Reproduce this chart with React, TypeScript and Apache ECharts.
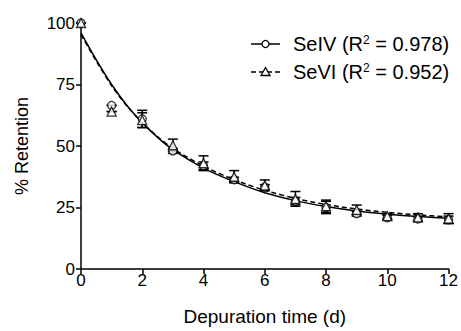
import React, { useEffect, useRef } from "react";
import * as echarts from "echarts";

const days = [0, 1, 2, 3, 4, 5, 6, 7, 8, 9, 10, 11, 12];
const seIV = [100, 66.5, 61, 48, 42, 36.3, 33.3, 27.6, 25, 22.5, 20.8, 20.3, 20];
const seIVErr = [0, 0, 3.5, 1, 1.5, 1, 1, 1.5, 2.5, 1, 1, 1, 1.5];
const seVI = [100, 64, 60.5, 50.3, 43, 37.5, 34, 28.5, 25.5, 24, 21.5, 21, 20.5];
const seVIErr = [0, 0, 3, 2.5, 3, 2.5, 2.2, 3, 2.5, 2, 1, 1.5, 2];
const fitX = [0, 0.5, 1, 1.5, 2, 2.5, 3, 4, 5, 6, 7, 8, 9, 10, 11, 12];
const fitIV = [96, 85, 75, 66.5, 59.5, 53.5, 48.5, 41, 35.5, 31, 27.8, 25.4, 23.6, 22.3, 21.3, 20.6];
const fitVI = [95.3, 84.5, 74.5, 66.3, 59.5, 53.8, 49, 41.8, 36.3, 32, 28.7, 26.2, 24.4, 23, 22, 21.2];
const yTicks = [0, 25, 50, 75, 100];
const xTicks = [0, 2, 4, 6, 8, 10, 12];

const FONT = "Arial, 'Liberation Sans', sans-serif";

function errSeries(vals: number[], errs: number[]) {
  return {
    type: "custom",
    silent: true,
    z: 3,
    data: days.map((d, i) => [d, vals[i] - errs[i], vals[i] + errs[i]]),
    renderItem: (params: any, api: any) => {
      const lo = api.coord([api.value(0), api.value(1)]);
      const hi = api.coord([api.value(0), api.value(2)]);
      const hw = 5;
      const st = { stroke: "#000", lineWidth: 1.5, fill: "none" };
      return {
        type: "group",
        children: [
          { type: "line", shape: { x1: lo[0], y1: lo[1], x2: hi[0], y2: hi[1] }, style: st },
          { type: "line", shape: { x1: lo[0] - hw, y1: lo[1], x2: lo[0] + hw, y2: lo[1] }, style: st },
          { type: "line", shape: { x1: hi[0] - hw, y1: hi[1], x2: hi[0] + hw, y2: hi[1] }, style: st },
        ],
      };
    },
  };
}

export default function App() {
  const ref = useRef<HTMLDivElement>(null);
  useEffect(() => {
    if (!ref.current) return;
    const chart = echarts.init(ref.current, null, { renderer: "svg" });
    const legendText = (label: string, r2: string) =>
      `{a|${label} (R}{s|2}{a| = ${r2})}`;
    const rich = {
      a: { fontSize: 20, fontFamily: FONT, fill: "#000" },
      s: { fontSize: 12, fontFamily: FONT, fill: "#000", verticalAlign: "top" },
    };
    chart.setOption({
      animation: false,
      backgroundColor: "#fff",
      grid: { left: 81, right: 11, top: 23, bottom: 62, containLabel: false },
      xAxis: {
        type: "value",
        min: 0,
        max: 12,
        interval: 2,
        name: "Depuration time (d)",
        nameLocation: "middle",
        nameGap: 38,
        nameTextStyle: { fontSize: 19, fontFamily: FONT, color: "#000" },
        axisLine: { lineStyle: { color: "#000", width: 1.5 } },
        axisTick: { length: 5, lineStyle: { color: "#000", width: 1.5 } },
        axisLabel: {
          fontSize: 17,
          fontFamily: FONT,
          color: "#000",
          margin: 3,
          formatter: (v: number) => (xTicks.includes(v) ? String(v) : ""),
        },
        splitLine: { show: false },
      },
      yAxis: {
        type: "value",
        min: 0,
        max: 100,
        interval: 25,
        name: "% Retention",
        nameLocation: "middle",
        nameGap: 50,
        nameTextStyle: { fontSize: 18, fontFamily: FONT, color: "#000" },
        axisLine: { lineStyle: { color: "#000", width: 1.5 } },
        axisTick: { length: 5, lineStyle: { color: "#000", width: 1.5 } },
        axisLabel: {
          fontSize: 17,
          fontFamily: FONT,
          color: "#000",
          margin: 6,
          formatter: (v: number) => (yTicks.includes(v) ? String(v) : ""),
        },
        splitLine: { show: false },
      },
      series: [
        {
          type: "line",
          data: fitX.map((d, i) => [d, fitIV[i]]),
          smooth: 0.3,
          showSymbol: false,
          lineStyle: { color: "#000", width: 1.5 },
          z: 2,
        },
        {
          type: "line",
          data: fitX.map((d, i) => [d, fitVI[i]]),
          smooth: 0.3,
          showSymbol: false,
          lineStyle: { color: "#000", width: 1.5, type: [5, 3] },
          z: 2,
        },
        errSeries(seIV, seIVErr),
        errSeries(seVI, seVIErr),
        {
          type: "scatter",
          data: days.map((d, i) => [d, seIV[i]]),
          symbol: "circle",
          symbolSize: 8,
          itemStyle: { color: "#fff", borderColor: "#000", borderWidth: 1.3 },
          z: 4,
        },
        {
          type: "scatter",
          data: days.map((d, i) => [d, seVI[i]]),
          symbol: "triangle",
          symbolSize: 9,
          itemStyle: { color: "#fff", borderColor: "#000", borderWidth: 1.3 },
          z: 5,
        },
      ],
      graphic: [
        { type: "line", shape: { x1: 251, y1: 44, x2: 280, y2: 44 }, style: { stroke: "#000", lineWidth: 1.5 } },
        { type: "circle", shape: { cx: 265.5, cy: 44, r: 3.5 }, style: { fill: "#fff", stroke: "#000", lineWidth: 1.3 } },
        {
          type: "text",
          x: 293,
          y: 44,
          style: { text: legendText("SeIV", "0.978"), rich, verticalAlign: "middle", fontFamily: FONT, fontSize: 20 },
        },
        { type: "line", shape: { x1: 251, y1: 72, x2: 280, y2: 72 }, style: { stroke: "#000", lineWidth: 1.5, lineDash: [5, 3] } },
        {
          type: "polygon",
          shape: { points: [[265.5, 67.5], [270, 75.5], [261, 75.5]] },
          style: { fill: "#fff", stroke: "#000", lineWidth: 1.3 },
        },
        {
          type: "text",
          x: 293,
          y: 72,
          style: { text: legendText("SeVI", "0.952"), rich, verticalAlign: "middle", fontFamily: FONT, fontSize: 20 },
        },
      ],
    });
    return () => chart.dispose();
  }, []);
  return (
    <div
      ref={ref}
      style={{ position: "fixed", left: 0, top: 0, width: 461, height: 331 }}
    />
  );
}
